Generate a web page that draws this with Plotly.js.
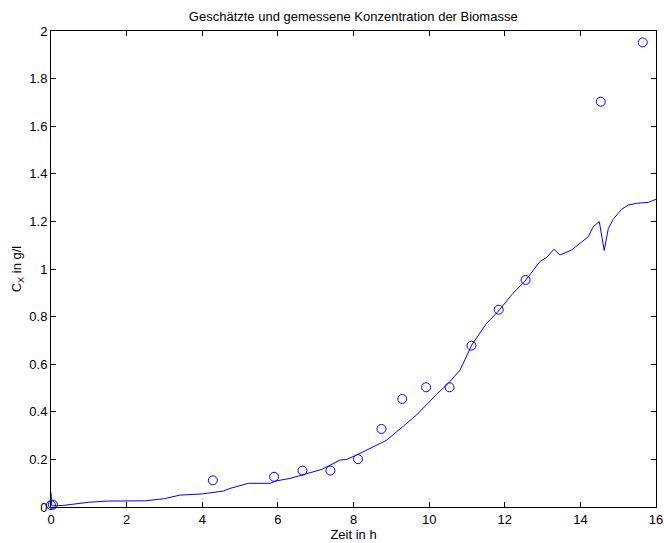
<!DOCTYPE html>
<html>
<head>
<meta charset="utf-8">
<script src="https://cdn.plot.ly/plotly-3.0.1.min.js"></script>
<style>html,body{margin:0;padding:0;background:#fff;}#chart{width:664px;height:543px;}</style>
</head>
<body>
<div id="chart"></div>
<script>
// Measured biomass concentration (circles)
const measTime = [0, 0.05, 4.28, 5.9, 6.65, 7.39, 8.12, 8.74, 9.29, 9.92, 10.54, 11.12, 11.84, 12.55, 14.54, 15.65];
const measConc = [0.008, 0.01, 0.112, 0.127, 0.153, 0.153, 0.201, 0.328, 0.454, 0.503, 0.503, 0.678, 0.829, 0.954, 1.703, 1.952];

// Estimated biomass concentration (line)
const estTime = [0, 0.02, 0.3, 1.0, 1.5, 2.0, 2.5, 3.0, 3.41, 4.0, 4.56, 4.73, 5.22, 5.79, 5.97, 6.32, 6.67, 7.03, 7.16, 7.64, 7.82, 8.17, 8.88, 9.23, 9.67, 10.2, 10.51, 10.82, 11.13, 11.52, 11.86, 12.18, 12.54, 12.93, 13.11, 13.3, 13.46, 13.77, 14.21, 14.34, 14.5, 14.63, 14.74, 14.87, 15.09, 15.27, 15.49, 15.8, 16.0];
const estConc = [0.062, 0.005, 0.006, 0.02, 0.025, 0.027, 0.026, 0.035, 0.05, 0.055, 0.067, 0.078, 0.0995, 0.0995, 0.11, 0.12, 0.137, 0.153, 0.158, 0.197, 0.2, 0.225, 0.281, 0.328, 0.387, 0.474, 0.52, 0.576, 0.681, 0.772, 0.828, 0.891, 0.95, 1.031, 1.049, 1.083, 1.059, 1.08, 1.136, 1.178, 1.199, 1.078, 1.171, 1.209, 1.251, 1.269, 1.276, 1.28, 1.293];

const titleText = 'Geschätzte und gemessene Konzentration der Biomasse';
const xTitle = 'Zeit in h';
const yTitle = 'C<sub>X</sub> in g/l';
const xTicks = [0, 2, 4, 6, 8, 10, 12, 14, 16];
const yTicks = [0, 0.2, 0.4, 0.6, 0.8, 1, 1.2, 1.4, 1.6, 1.8, 2];
const yTickText = ['0', '0.2', '0.4', '0.6', '0.8', '1', '1.2', '1.4', '1.6', '1.8', '2'];

const traces = [
  {x: estTime, y: estConc, mode: 'lines', type: 'scatter',
   line: {color: '#0000ff', width: 1}, hoverinfo: 'skip'},
  {x: measTime, y: measConc, mode: 'markers', type: 'scatter',
   marker: {symbol: 'circle-open', size: 9, color: '#0000ff', line: {width: 1}}, cliponaxis: false}
];

const fam = 'Liberation Sans, Arial, sans-serif';
const layout = {
  width: 664, height: 543,
  margin: {l: 51, r: 8, t: 31, b: 36, pad: 0},
  paper_bgcolor: '#fff', plot_bgcolor: '#fff',
  showlegend: false,
  font: {family: fam, size: 13, color: '#000'},
  title: {text: titleText, font: {family: fam, size: 13, color: '#000'},
          x: 0.532, xref: 'container', xanchor: 'center',
          y: 0.9705, yref: 'container', yanchor: 'middle'},
  xaxis: {
    range: [0, 16], tickvals: xTicks, ticktext: xTicks.map(String),
    ticks: 'inside', ticklen: 5, tickcolor: '#000', tickwidth: 1,
    showline: true, linecolor: '#000', linewidth: 1, mirror: 'ticks',
    showgrid: false, zeroline: false,
    tickfont: {family: fam, size: 13, color: '#000'},
    title: {text: xTitle, font: {family: fam, size: 13, color: '#000'}, standoff: 1}
  },
  yaxis: {
    range: [0, 2], tickvals: yTicks, ticktext: yTickText,
    ticks: 'inside', ticklen: 5, tickcolor: '#000', tickwidth: 1,
    showline: true, linecolor: '#000', linewidth: 1, mirror: 'ticks',
    showgrid: false, zeroline: false,
    tickfont: {family: fam, size: 13, color: '#000'},
    title: {text: yTitle, font: {family: fam, size: 13, color: '#000'}, standoff: 4}
  }
};

Plotly.newPlot('chart', traces, layout, {displayModeBar: false, staticPlot: true});
</script>
</body>
</html>
